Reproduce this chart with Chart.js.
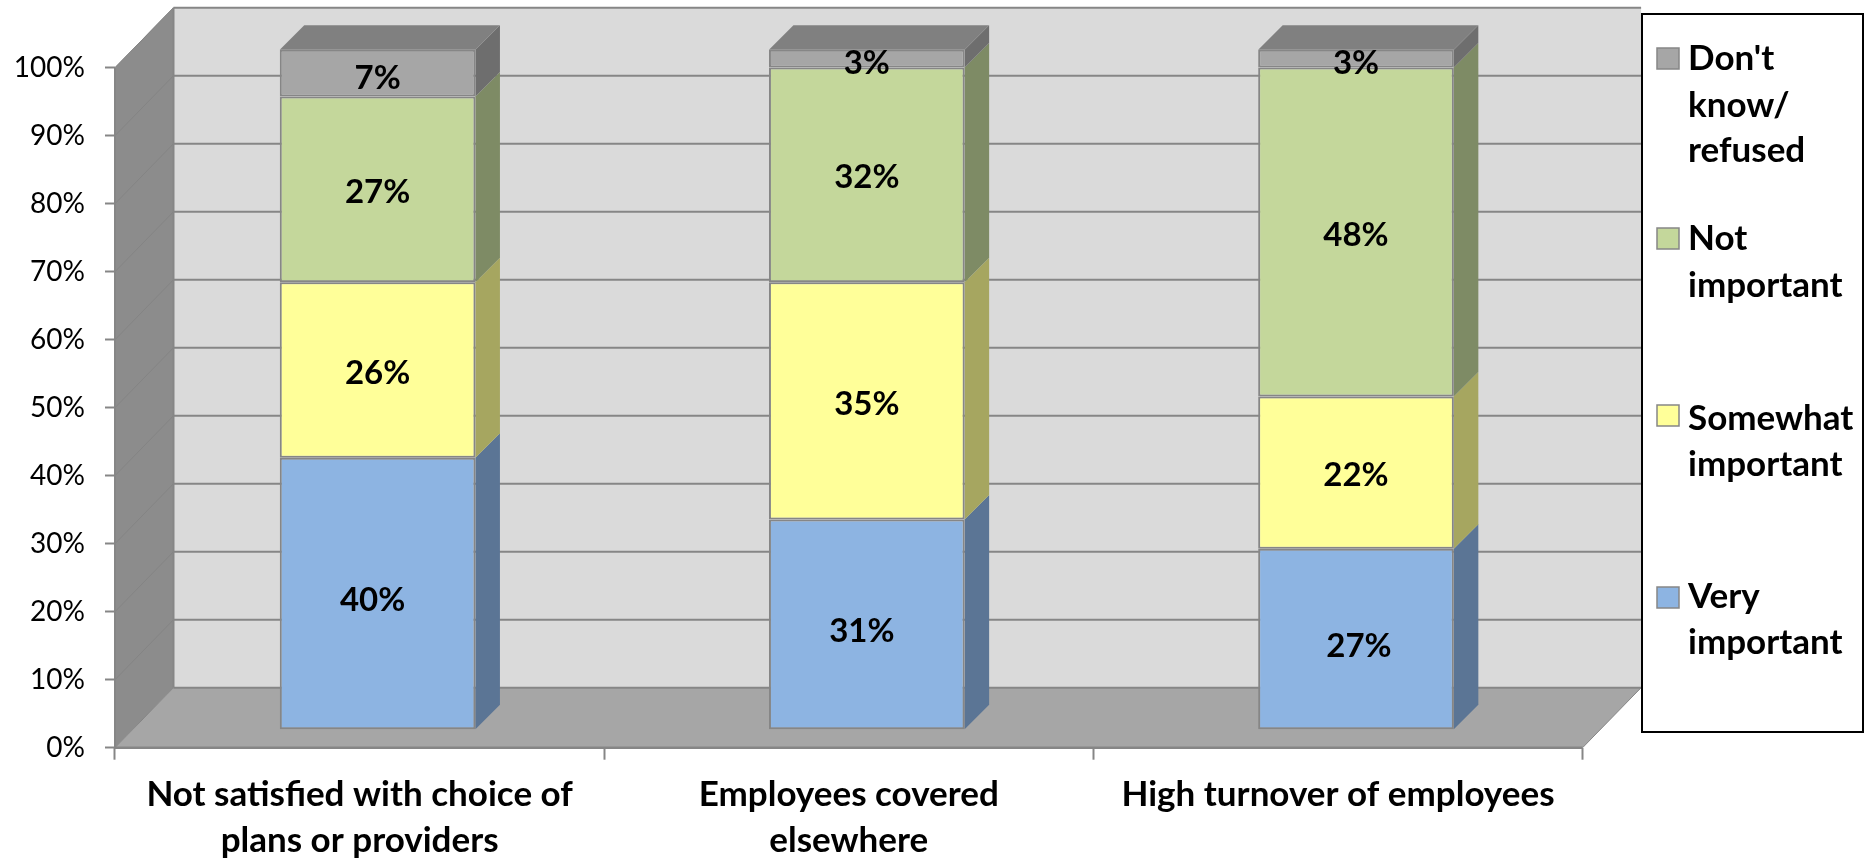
<!DOCTYPE html>
<html>
<head>
<meta charset="utf-8">
<style>html,body{margin:0;padding:0;background:#fff}canvas{display:block}</style>
<script src="https://cdn.jsdelivr.net/npm/chart.js@4"></script>
</head>
<body>
<canvas id="c" width="1870" height="859"></canvas>
<script>
const categories = [["Not satisfied with choice of","plans or providers"],["Employees covered","elsewhere"],"High turnover of employees"];
const veryImportant = [40.0, 30.9, 26.6];
const somewhatImportant = [25.8, 34.9, 22.4];
const notImportant = [27.3, 31.6, 48.4];
const dontKnow = [6.9, 2.6, 2.6];
const legendLines = {"Very important":["Very","important"],"Somewhat important":["Somewhat","important"],"Not important":["Not","important"],"Don't know/refused":["Don't","know/","refused"]};
const yTicks = [0,10,20,30,40,50,60,70,80,90,100];

const FONT = 'Lato, "Open Sans", sans-serif';
const WALLX = 58.5, WALLY = 60, INSET = 18, DEPTH = 24.5, LINE = '#868686';
const sideColors = ['#5B7595','#A6A660','#7E8B65','#6E6E6E'];
const labelNudge = [7,3,3,5];
const blueLabelShift = [-5,-5,3];
const legendBaselines = [[608,654],[430,476],[250,297],[70,117,162]];
const legendSwatch = [587,405,228,48];

function poly(ctx, pts, fill, stroke, w){
  ctx.beginPath();
  pts.forEach((p,i)=> i?ctx.lineTo(p[0],p[1]):ctx.moveTo(p[0],p[1]));
  ctx.closePath();
  if(fill){ctx.fillStyle=fill;ctx.fill();}
  if(stroke){ctx.strokeStyle=stroke;ctx.lineWidth=w||1;ctx.stroke();}
}
function seg(ctx,x1,y1,x2,y2,c,w){
  ctx.beginPath();ctx.moveTo(x1,y1);ctx.lineTo(x2,y2);ctx.strokeStyle=c;ctx.lineWidth=w;ctx.stroke();
}

const room = {
  id:'room',
  beforeDatasetsDraw(chart){
    const {ctx,scales:{x,y}} = chart;
    const l=x.left,r=x.right,b=y.bottom,t=y.top;
    ctx.save();
    poly(ctx,[[l+WALLX,t-WALLY],[r+WALLX,t-WALLY],[r+WALLX,b-WALLY],[l+WALLX,b-WALLY]],'#DADADA');
    poly(ctx,[[l,t],[l+WALLX,t-WALLY],[l+WALLX,b-WALLY],[l,b]],'#8C8C8C');
    poly(ctx,[[l,b],[l+WALLX,b-WALLY],[r+WALLX,b-WALLY],[r,b]],'#A6A6A6');
    yTicks.forEach(v=>{
      const py=y.getPixelForValue(v);
      seg(ctx,l,py,l+WALLX,py-WALLY,'#848484',1);
      seg(ctx,l+WALLX,py-WALLY,r+WALLX,py-WALLY,LINE,2);
    });
    seg(ctx,l+WALLX,t-WALLY,l+WALLX,b-WALLY,LINE,2);
    seg(ctx,l,t,l,b,LINE,2);
    seg(ctx,l,b,r,b,LINE,2.5);
    seg(ctx,r,b,r+WALLX,b-WALLY,LINE,1);
    seg(ctx,l,t,l+WALLX,t-WALLY,LINE,1);
    // depth faces of the bars
    ctx.translate(INSET,-INSET);
    const n=chart.data.datasets.length;
    chart.data.datasets.forEach((ds,di)=>{
      chart.getDatasetMeta(di).data.forEach(el=>{
        const bl=el.x-el.width/2, br=el.x+el.width/2;
        poly(ctx,[[br,el.y],[br+DEPTH,el.y-DEPTH],[br+DEPTH,el.base-DEPTH],[br,el.base]],sideColors[di]);
        if(di===n-1) poly(ctx,[[bl,el.y],[bl+DEPTH,el.y-DEPTH],[br+DEPTH,el.y-DEPTH],[br,el.y]],'#808080');
      });
    });
    ctx.restore();
    // bars themselves are drawn on the inset plane
    ctx.save();
    ctx.translate(INSET,-INSET);
  },
  afterDatasetsDraw(chart){
    const {ctx}=chart;
    ctx.restore();
    ctx.save();
    ctx.translate(INSET,-INSET);
    ctx.fillStyle='#000';
    ctx.font='bold 33px '+FONT;
    ctx.textAlign='center';
    ctx.textBaseline='middle';
    chart.data.datasets.forEach((ds,di)=>{
      chart.getDatasetMeta(di).data.forEach((el,i)=>{
        const dx = di===0 ? blueLabelShift[i] : 0;
        ctx.fillText(Math.round(ds.data[i])+'%',el.x+dx,(el.y+el.base)/2+labelNudge[di]);
      });
    });
    ctx.restore();
  },
  afterDraw(chart){
    const {ctx}=chart;
    ctx.save();
    ctx.fillStyle='#fff';ctx.fillRect(1642,14,221,718);
    ctx.strokeStyle='#000';ctx.lineWidth=2;ctx.strokeRect(1642,14,221,718);
    ctx.font='bold 35px '+FONT;
    ctx.textAlign='left';ctx.textBaseline='alphabetic';
    chart.data.datasets.forEach((ds,di)=>{
      ctx.fillStyle=ds.backgroundColor;
      ctx.fillRect(1657,legendSwatch[di],22,21);
      ctx.strokeStyle=LINE;ctx.lineWidth=1.5;
      ctx.strokeRect(1657,legendSwatch[di],22,21);
      ctx.fillStyle='#000';
      legendLines[ds.label].forEach((t,i)=>ctx.fillText(t,1688,legendBaselines[di][i]));
    });
    ctx.restore();
  }
};

function series(label,data,color){
  return {label,data,backgroundColor:color,borderColor:LINE,borderWidth:2,borderSkipped:false,clip:false,
          barPercentage:1,categoryPercentage:0.4};
}

new Chart(document.getElementById('c'),{
  type:'bar',
  data:{labels:categories,datasets:[
    series('Very important',veryImportant,'#8DB4E2'),
    series('Somewhat important',somewhatImportant,'#FFFF99'),
    series('Not important',notImportant,'#C4D79B'),
    series("Don't know/refused",dontKnow,'#A6A6A6')
  ]},
  plugins:[room],
  options:{
    responsive:false,animation:false,
    layout:{padding:{left:0,top:67.7,right:287.4,bottom:0}},
    plugins:{legend:{display:false},tooltip:{enabled:false},title:{display:false}},
    scales:{
      x:{stacked:true,
        afterFit(s){s.height=111.3;},
        border:{display:false},
        grid:{drawOnChartArea:false,drawTicks:true,tickLength:12,tickColor:LINE,tickWidth:2,offset:true},
        ticks:{color:'#000',font:{family:FONT,size:35,weight:'bold',lineHeight:1.31},padding:12,maxRotation:0,minRotation:0,autoSkip:false}},
      y:{stacked:true,min:0,max:100,
        afterFit(s){s.width=115;},
        afterBuildTicks(s){s.ticks=yTicks.map(value=>({value}));},
        border:{display:false},
        grid:{drawOnChartArea:false,drawTicks:true,tickLength:10,tickColor:LINE,tickWidth:2},
        ticks:{color:'#000',font:{family:FONT,size:28},padding:20,callback:v=>v+'%'}}
    }
  }
});
</script>
</body>
</html>
